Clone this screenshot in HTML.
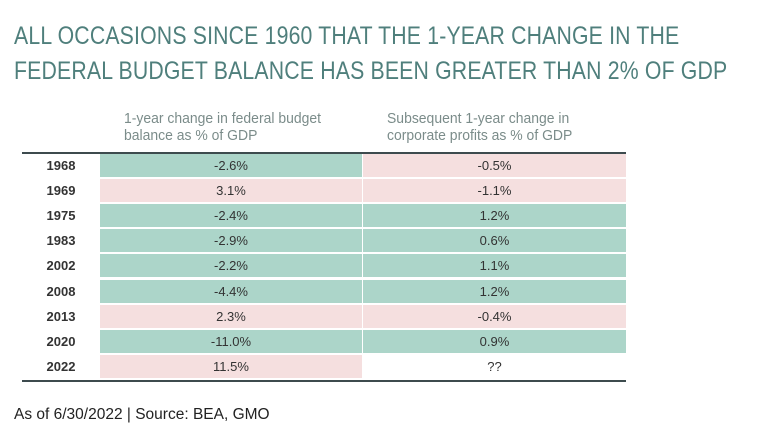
<!DOCTYPE html>
<html><head><meta charset="utf-8"><style>
body{margin:0;width:778px;height:441px;background:#fff;font-family:"Liberation Sans",sans-serif;position:relative;overflow:hidden}
.t{position:absolute;left:14px;font-size:25px;color:#4f7f7c;letter-spacing:0.2px;white-space:nowrap;transform:scaleX(0.85);transform-origin:left}
.h{position:absolute;font-size:15px;color:#7b8c8a;line-height:17px;transform:scaleX(0.93);transform-origin:left;white-space:nowrap}
.row{position:absolute;left:22px;width:604px;height:23px;border-bottom:2px solid #fff}
.c{position:absolute;top:0;height:23px;line-height:23px;text-align:center;font-size:13px;color:#333}
.yr{left:0;width:78px;font-weight:bold;color:#333}
.c1{left:78px;width:262px}
.c2{left:341px;width:263px}
.g{background:#acd5c9}.p{background:#f5dfdf}
</style></head><body>
<div class="t" style="top:22px">ALL OCCASIONS SINCE 1960 THAT THE 1-YEAR CHANGE IN THE</div>
<div class="t" style="top:57px">FEDERAL BUDGET BALANCE HAS BEEN GREATER THAN 2% OF GDP</div>
<div class="h" style="left:124px;top:110px">1-year change in federal budget<br>balance as % of GDP</div>
<div class="h" style="left:387px;top:110px">Subsequent 1-year change in<br>corporate profits as % of GDP</div>
<div style="position:absolute;left:22px;top:152px;width:604px;height:2px;background:#3d4b4e"></div>
<div id="tbl"></div>
<div style="position:absolute;left:22px;top:380px;width:604px;height:2px;background:#3d4b4e"></div>
<div style="position:absolute;left:14px;top:406px;font-size:15.5px;color:#222">As of 6/30/2022 | Source: BEA, GMO</div>
<script>
const years=["1968","1969","1975","1983","2002","2008","2013","2020","2022"];
const budget=["-2.6%","3.1%","-2.4%","-2.9%","-2.2%","-4.4%","2.3%","-11.0%","11.5%"];
const profits=["-0.5%","-1.1%","1.2%","0.6%","1.1%","1.2%","-0.4%","0.9%","??"];
const tbl=document.getElementById('tbl');
function clsB(v){return v.startsWith("-")?"g":"p";}
function clsP(v){if(v==="??")return "";return v.startsWith("-")?"p":"g";}
years.forEach((y,i)=>{
  const r=document.createElement('div');r.className='row';r.style.top=(154+i*25.1)+'px';
  
  
  const a=document.createElement('div');a.className='c yr';a.textContent=y;
  
  
  const b=document.createElement('div');b.className='c c1 '+clsB(budget[i]);b.textContent=budget[i];
  
  
  const c=document.createElement('div');c.className='c c2 '+clsP(profits[i]);c.textContent=profits[i];
  
  
  r.append(a,b,c);tbl.appendChild(r);
});
</script>
</body></html>
